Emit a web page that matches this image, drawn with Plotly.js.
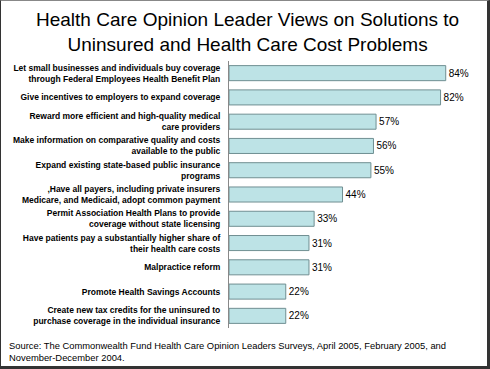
<!DOCTYPE html>
<html>
<head>
<meta charset="utf-8">
<script src="https://cdn.plot.ly/plotly-3.0.1.min.js"></script>
<style>
  html, body { margin: 0; padding: 0; background: #fff; }
  #wrap { position: relative; width: 490px; height: 369px; }
  #chart { position: absolute; left: 0; top: 0; width: 490px; height: 369px; }
  #frame { position: absolute; left: 0; top: 0; width: 490px; height: 369px; box-sizing: border-box;
           border-left: 1px solid #333; border-top: 1px solid #888; border-right: 3px solid #333; border-bottom: 3px solid #333; pointer-events: none; }
</style>
</head>
<body>
<div id="wrap">
  <div id="chart"></div>
  <div id="frame"></div>
</div>
<script>
const categories = [
  "Let small businesses and individuals buy coverage<br>through Federal Employees Health Benefit Plan",
  "Give incentives to employers to expand coverage",
  "Reward more efficient and high-quality medical<br>care providers",
  "Make information on comparative quality and costs<br>available to the public",
  "Expand existing state-based public insurance<br>programs",
  ",Have all payers, including private insurers<br>Medicare, and Medicaid, adopt common payment",
  "Permit Association Health Plans to provide<br>coverage without state licensing",
  "Have patients pay a substantially higher share of<br>their health care costs",
  "Malpractice reform",
  "Promote Health Savings Accounts",
  "Create new tax credits for the uninsured to<br>purchase coverage in the individual insurance"
];
const values = [84, 82, 57, 56, 55, 44, 33, 31, 31, 22, 22];
const titleText = "Health Care Opinion Leader Views on Solutions to<br>Uninsured and Health Care Cost Problems";
const sourceText = "Source: The Commonwealth Fund Health Care Opinion Leaders Surveys, April 2005, February 2005, and<br>November-December 2004.";

const W = 490, H = 369;
const L = 229, R = 3, T = 61, B = 41;
const pw = W - L - R, ph = H - T - B;

const trace = {
  type: 'bar',
  orientation: 'h',
  y: categories,
  x: values,
  marker: { color: '#BDE3E6', line: { color: '#708F92', width: 1 } },
  text: values.map(v => v + '%'),
  textposition: 'outside',
  cliponaxis: false,
  textfont: { family: 'Liberation Sans, Arial, sans-serif', size: 10, color: '#000' },
  hoverinfo: 'none'
};

const layout = {
  width: W, height: H,
  margin: { l: L, r: R, t: T, b: B, pad: 0 },
  paper_bgcolor: '#fff', plot_bgcolor: '#fff',
  showlegend: false,
  bargap: 0.38,
  xaxis: {
    range: [0, 100], showgrid: false, zeroline: false, showline: false,
    showticklabels: false, ticks: '', fixedrange: true
  },
  yaxis: {
    type: 'category', autorange: 'reversed',
    showgrid: false, zeroline: false,
    showline: true, linecolor: '#888', linewidth: 1,
    ticks: '', ticklabelstandoff: 6,
    tickfont: { family: 'Liberation Sans, Arial, sans-serif', size: 8.5, color: '#000', weight: 'bold' }
  },
  annotations: [{
    text: titleText,
    xref: 'paper', yref: 'paper',
    x: (247 - L) / pw, y: (H - B - 7) / ph,
    xanchor: 'center', yanchor: 'top', align: 'center', showarrow: false,
    font: { family: 'Liberation Sans, Arial, sans-serif', size: 19, color: '#000' }
  }, {
    text: sourceText,
    xref: 'paper', yref: 'paper',
    x: (7 - L) / pw, y: (H - B - 338) / ph,
    xanchor: 'left', yanchor: 'top', align: 'left', showarrow: false,
    font: { family: 'Liberation Sans, Arial, sans-serif', size: 9.4, color: '#000' }
  }]
};

Plotly.newPlot('chart', [trace], layout, { displayModeBar: false, staticPlot: true });
</script>
</body>
</html>
